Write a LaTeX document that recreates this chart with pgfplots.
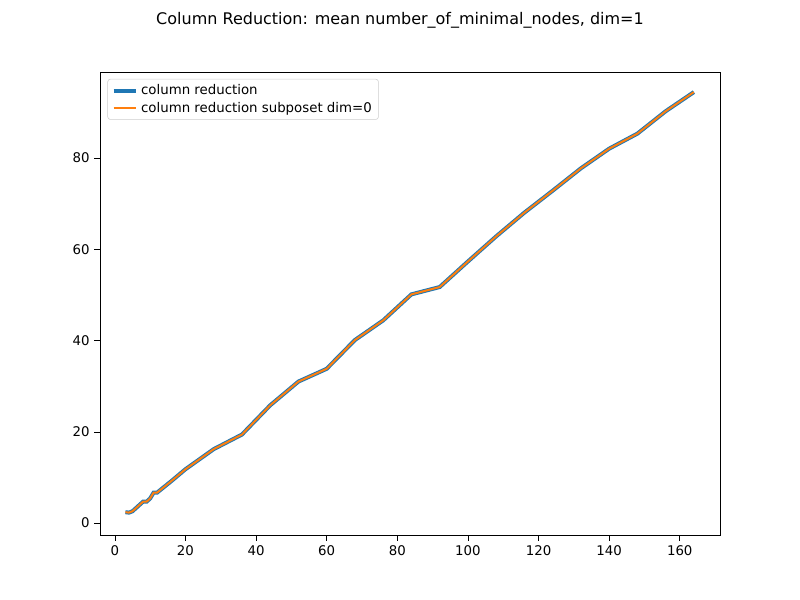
\documentclass[border=0pt]{standalone}
\usepackage{pgfplots}
\pgfplotsset{compat=1.18}
\usepackage{fontspec}
\setmainfont{DejaVu Sans}
\begin{document}
\begin{tikzpicture}
\path[use as bounding box] (0pt,0pt) rectangle (600pt,450pt);
\node at (300pt,435pt) {\fontsize{12}{14}\selectfont Column Reduction: mean number\_of\_minimal\_nodes, dim=1};
\begin{axis}[at={(75pt,48.75pt)},anchor=south west,scale only axis,width=465pt,height=347.25pt,
xmin=-4.2,xmax=171.4,ymin=-2.6,ymax=98.8,
xtick={0,20,...,160},ytick={0,20,...,80},
tick style={black,thin},tick align=outside,
xtick pos=bottom,ytick pos=left,
ticklabel style={font=\fontsize{10}{12}\selectfont},
/pgf/number format/assume math mode=true,
legend cell align=left,
legend style={at={(0.012,0.985)},anchor=north west,font=\fontsize{10}{12}\selectfont,draw=black!20,rounded corners=2pt},
]
\addplot[color={rgb,255:red,31;green,119;blue,180},line width=3pt] coordinates {
(3,2.4)(4,2.3)(5,2.6)(6,3.3)(7,4)(8,4.7)(9,4.7)(10,5.4)(11,6.7)(12,6.7)(16,9.2)(20,11.8)(28,16.2)(36,19.4)(44,25.8)(52,31)(60,33.8)(68,40.1)(76,44.4)(84,50.1)(92,51.7)(100,57.3)(108,62.8)(116,68)(124,72.8)(132,77.7)(140,82)(148,85.3)(156,90.2)(164,94.4)};
\addlegendentry{column reduction}
\addplot[color={rgb,255:red,255;green,127;blue,14},line width=1.5pt] coordinates {
(3,2.4)(4,2.3)(5,2.6)(6,3.3)(7,4)(8,4.7)(9,4.7)(10,5.4)(11,6.7)(12,6.7)(16,9.2)(20,11.8)(28,16.2)(36,19.4)(44,25.8)(52,31)(60,33.8)(68,40.1)(76,44.4)(84,50.1)(92,51.7)(100,57.3)(108,62.8)(116,68)(124,72.8)(132,77.7)(140,82)(148,85.3)(156,90.2)(164,94.4)};
\addlegendentry{column reduction subposet dim=0}
\end{axis}
\end{tikzpicture}
\end{document}
